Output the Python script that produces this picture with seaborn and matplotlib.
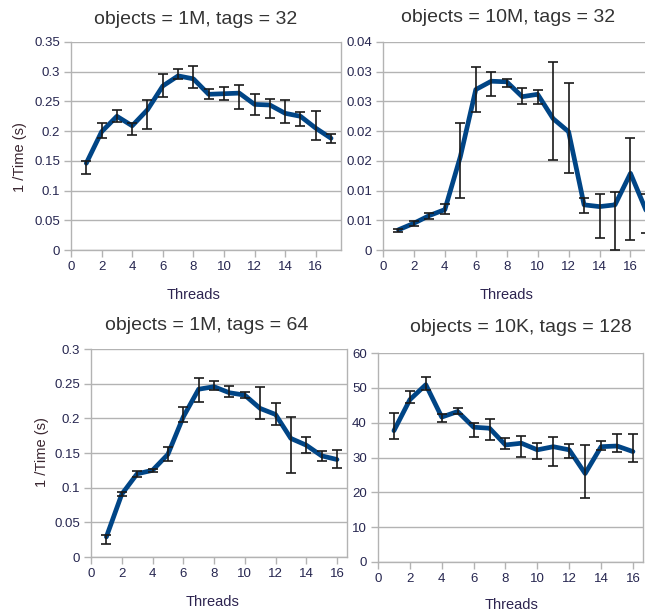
import numpy as np
import pandas as pd
import seaborn as sns
import matplotlib
matplotlib.use("Agg")
import matplotlib.pyplot as plt

# ---------------- data ----------------
threads17 = list(range(1, 18))
threads16 = list(range(1, 17))

# objects = 1M, tags = 32
tl_val = [0.146, 0.199, 0.225, 0.209, 0.236, 0.276, 0.293, 0.288, 0.262, 0.263,
          0.264, 0.245, 0.244, 0.230, 0.225, 0.205, 0.188]
tl_lo = [0.128, 0.188, 0.215, 0.194, 0.204, 0.258, 0.287, 0.272, 0.254, 0.253,
         0.238, 0.227, 0.222, 0.213, 0.208, 0.185, 0.180]
tl_hi = [0.150, 0.213, 0.236, 0.213, 0.253, 0.296, 0.304, 0.309, 0.271, 0.274,
         0.277, 0.262, 0.254, 0.253, 0.232, 0.234, 0.196]

# objects = 10M, tags = 32
tr_val = [0.0034, 0.0045, 0.0058, 0.0068, 0.0157, 0.0270, 0.0284, 0.0283, 0.0258, 0.0262,
          0.0221, 0.0199, 0.0076, 0.0073, 0.0076, 0.0129, 0.0067]
tr_lo = [0.0031, 0.0040, 0.0053, 0.0060, 0.0087, 0.0233, 0.0259, 0.0274, 0.0245, 0.0245,
         0.0151, 0.0129, 0.0063, 0.0020, 0.0000, 0.0016, 0.0029]
tr_hi = [0.0035, 0.0048, 0.0063, 0.0077, 0.0214, 0.0308, 0.0300, 0.0288, 0.0273, 0.0270,
         0.0316, 0.0281, 0.0087, 0.0094, 0.0098, 0.0188, 0.0095]

# objects = 1M, tags = 64
bl_val = [0.029, 0.0905, 0.120, 0.125, 0.148, 0.202, 0.242, 0.2456, 0.2369, 0.2335,
          0.2143, 0.2056, 0.171, 0.1613, 0.1459, 0.1406]
bl_lo = [0.0193, 0.0876, 0.1156, 0.1228, 0.138, 0.1945, 0.223, 0.2407, 0.231, 0.2297,
         0.1989, 0.1897, 0.1213, 0.1493, 0.1382, 0.1286]
bl_hi = [0.0323, 0.0939, 0.1247, 0.1276, 0.159, 0.2167, 0.2576, 0.2537, 0.2465, 0.2383,
         0.2446, 0.2215, 0.2017, 0.1733, 0.1526, 0.155]

# objects = 10K, tags = 128
br_val = [37.7, 46.6, 50.9, 41.6, 43.2, 38.7, 38.4, 33.6, 34.1, 32.2,
          33.1, 32.2, 25.4, 33.1, 33.3, 31.7]
br_lo = [35.2, 45.6, 49.4, 40.3, 42.6, 36.0, 35.0, 32.4, 30.2, 29.6,
         27.5, 30.0, 18.5, 32.1, 31.7, 28.8]
br_hi = [42.7, 49.2, 53.1, 42.4, 44.1, 39.8, 41.0, 35.6, 36.3, 34.2,
         35.9, 33.8, 33.5, 34.8, 36.7, 36.7]

titles = ["objects = 1M, tags = 32", "objects = 10M, tags = 32",
          "objects = 1M, tags = 64", "objects = 10K, tags = 128"]

x_ticks = [0, 2, 4, 6, 8, 10, 12, 14, 16]
tl_yticks = [0, 0.05, 0.1, 0.15, 0.2, 0.25, 0.3, 0.35]
tl_ylabels = ["0", "0.05", "0.1", "0.15", "0.2", "0.25", "0.3", "0.35"]
tr_yticks = [0, 0.005, 0.01, 0.015, 0.02, 0.025, 0.03, 0.035]
tr_ylabels = ["0", "0.01", "0.01", "0.02", "0.02", "0.03", "0.03", "0.04"]
bl_yticks = [0, 0.05, 0.1, 0.15, 0.2, 0.25, 0.3]
bl_ylabels = ["0", "0.05", "0.1", "0.15", "0.2", "0.25", "0.3"]
br_yticks = [0, 10, 20, 30, 40, 50, 60]
br_ylabels = ["0", "10", "20", "30", "40", "50", "60"]

# ---------------- style ----------------
sns.set_theme(style="white")
plt.rcParams['font.family'] = ['Liberation Sans', 'DejaVu Sans']

W, H = 645, 616
fig = plt.figure(figsize=(W / 100, H / 100), dpi=100)

LINE = "#004586"
GRID = "#b3b3b3"
TICKC = "#262650"
TEXTC = "#333333"


def px_axes(l, r, t, b):
    return fig.add_axes([l / W, 1 - b / H, (r - l) / W, (b - t) / H])


def panel(ax, xs, val, lo, hi, yticks, ylabels, xmax):
    df = pd.DataFrame({"Threads": xs, "v": val})
    sns.lineplot(data=df, x="Threads", y="v", ax=ax, color=LINE, lw=3.4,
                 zorder=2, solid_capstyle="round", solid_joinstyle="round")
    v = np.array(val)
    yerr = np.vstack([v - np.array(lo), np.array(hi) - v])
    ax.errorbar(xs, v, yerr=yerr, fmt="none", ecolor="#1a1a1a", elinewidth=1.2,
                capsize=3.5, capthick=1.2, zorder=3)
    ax.set_xlim(0, xmax)
    ax.set_ylim(yticks[0], yticks[-1])
    ax.set_xticks(x_ticks)
    ax.set_xticklabels([str(t) for t in x_ticks])
    ax.set_yticks(yticks)
    ax.set_yticklabels(ylabels)
    ax.grid(axis="y", color=GRID, lw=1.0)
    ax.set_axisbelow(True)
    ax.set_xlabel("")
    ax.set_ylabel("")
    for s in ["left", "bottom", "right"]:
        ax.spines[s].set_color(GRID)
        ax.spines[s].set_linewidth(1.0)
    ax.spines["top"].set_visible(False)
    ax.tick_params(axis="both", direction="out", length=5, width=1.0, color=GRID,
                   labelsize=9.5, labelcolor=TICKC, left=True, bottom=True, pad=3)
    ax.set_facecolor("white")


ax1 = px_axes(71, 341, 42, 250)
panel(ax1, threads17, tl_val, tl_lo, tl_hi, tl_yticks, tl_ylabels, 17.65)
ax2 = px_axes(383, 656, 42, 250)
panel(ax2, threads17, tr_val, tr_lo, tr_hi, tr_yticks, tr_ylabels, 17.65)
ax3 = px_axes(91, 347, 349, 557)
panel(ax3, threads16, bl_val, bl_lo, bl_hi, bl_yticks, bl_ylabels, 16.65)
ax4 = px_axes(378, 643, 353, 562)
panel(ax4, threads16, br_val, br_lo, br_hi, br_yticks, br_ylabels, 16.63)


def ftext(x, y, s, **kw):
    fig.text(x / W, 1 - y / H, s, ha="center", va="center", **kw)


ftext(196, 19, titles[0], fontsize=14, color=TEXTC)
ftext(508, 18, titles[1], fontsize=14, color=TEXTC)
ftext(207, 326, titles[2], fontsize=14, color=TEXTC)
ftext(521, 327, titles[3], fontsize=14, color=TEXTC)

ftext(194, 295, "Threads", fontsize=10.5, color="#2d2450")
ftext(507, 295, "Threads", fontsize=10.5, color="#2d2450")
ftext(213, 602, "Threads", fontsize=10.5, color="#2d2450")
ftext(512, 605, "Threads", fontsize=10.5, color="#2d2450")

ftext(20, 157, "1 /Time (s)", fontsize=10.5, color="#3a2630", rotation=90)
ftext(42, 452, "1 /Time (s)", fontsize=10.5, color="#3a2630", rotation=90)

fig.savefig("out.png", dpi=100, facecolor="white")
